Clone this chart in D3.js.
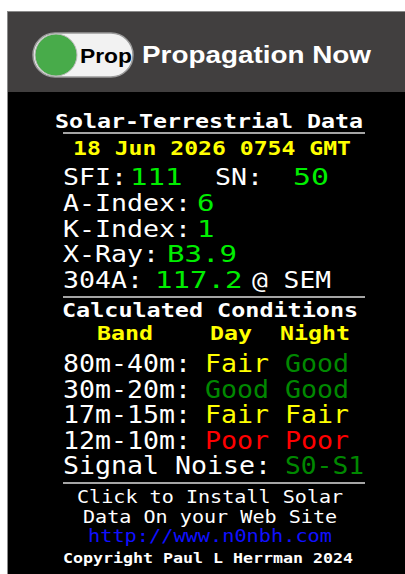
<!DOCTYPE html>
<html>
<head>
<meta charset="utf-8">
<script src="https://cdn.jsdelivr.net/npm/d3@7"></script>
<style>
  body { margin: 0; background: #fff; }
  svg { display: block; }
</style>
</head>
<body>
<div id="chart"></div>
<script>
// widget data
var headerTitle = "Solar-Terrestrial Data";
var dateLine = "18 Jun 2026 0754 GMT";
var indexLabels = ["SFI:", "A-Index:", "K-Index:", "X-Ray:", "304A:"];
var indexValues = ["111", "6", "1", "B3.9", "117.2"];
var indexValueX = [130, 197, 197, 167, 155];
var bands = ["80m-40m:", "30m-20m:", "17m-15m:", "12m-10m:"];
var dayConditions = ["Fair", "Good", "Fair", "Poor"];
var nightConditions = ["Good", "Good", "Fair", "Poor"];
var columnHeads = ["Band", "Day", "Night"];
var columnHeadX = [97, 210, 280];
var noiseLabel = "Signal Noise:";
var noiseValue = "S0-S1";
var footerLines = ["Click to Install Solar", "Data On your Web Site"];

var width = 405, height = 574;
var mono = "'DejaVu Sans Mono', 'Liberation Mono', monospace";

var svg = d3.select("#chart")
    .append("svg")
    .attr("width", width)
    .attr("height", height);

// panel background
svg.append("rect").attr("x", 7).attr("y", 92).attr("width", width - 7).attr("height", height - 92).attr("fill", "#000");
svg.append("rect").attr("x", 7).attr("y", 11).attr("width", width - 7).attr("height", 81).attr("fill", "#413f3f");
svg.append("line").attr("x1", 7).attr("x2", width).attr("y1", 11.5).attr("y2", 11.5).attr("stroke", "#8a8a8a");
svg.append("line").attr("x1", 7.5).attr("x2", 7.5).attr("y1", 11).attr("y2", height).attr("stroke", "#8a8a8a");

// toggle + title
svg.append("rect").attr("x", 33).attr("y", 33).attr("width", 100).attr("height", 44).attr("rx", 22)
    .attr("fill", "#f2f2f2").attr("stroke", "#9a9a9a").attr("stroke-width", 1.5);
svg.append("circle").attr("cx", 56).attr("cy", 55).attr("r", 21)
    .attr("fill", "#48ab4a").attr("stroke", "#bbb").attr("stroke-width", 1);
svg.append("text").attr("x", 80).attr("y", 63)
    .attr("font-family", "'Liberation Sans', Arial, sans-serif").attr("font-weight", "bold")
    .attr("font-size", 21).attr("fill", "#000")
    .attr("textLength", 52).attr("lengthAdjust", "spacingAndGlyphs").text("Prop");
svg.append("text").attr("x", 142).attr("y", 63)
    .attr("font-family", "'Liberation Sans', Arial, sans-serif").attr("font-weight", "bold")
    .attr("font-size", 24).attr("fill", "#fff")
    .attr("textLength", 229).attr("lengthAdjust", "spacingAndGlyphs").text("Propagation Now");

// helper for fixed-width text
function monoText(x, y, str, charW, size, color, bold) {
    return svg.append("text")
        .attr("x", x).attr("y", y)
        .attr("font-family", mono)
        .attr("font-size", size)
        .attr("font-weight", bold ? "bold" : "normal")
        .attr("fill", color)
        .attr("textLength", str.length * charW)
        .attr("lengthAdjust", "spacingAndGlyphs")
        .text(str);
}

// separators
[133, 297, 483].forEach(function (y) {
    svg.append("line").attr("x1", 63).attr("x2", 365).attr("y1", y).attr("y2", y)
        .attr("stroke", "#a5a5a5").attr("stroke-width", 2);
});

monoText(55, 128, headerTitle, 14, 20, "#fff", true);
monoText(73, 155, dateLine, 13.9, 20, "#ffff00", true);

// index rows
var indexY = d3.scaleLinear().domain([0, indexLabels.length - 1]).range([185, 288]);
var green = "#00ee00";
var rowSize = 23.5;

svg.selectAll(".idxLabel").data(indexLabels).enter().append("text")
    .attr("class", "idxLabel")
    .attr("x", 63).attr("y", function (d, i) { return indexY(i); })
    .attr("font-family", mono).attr("font-size", rowSize).attr("fill", "#fff")
    .attr("textLength", function (d) { return d.length * 16; })
    .attr("lengthAdjust", "spacingAndGlyphs")
    .text(function (d) { return d; });

svg.selectAll(".idxValue").data(indexValues).enter().append("text")
    .attr("class", "idxValue")
    .attr("x", function (d, i) { return indexValueX[i]; })
    .attr("y", function (d, i) { return indexY(i); })
    .attr("font-family", mono).attr("font-size", rowSize).attr("fill", green)
    .attr("textLength", function (d) { return d.length * 17.5; })
    .attr("lengthAdjust", "spacingAndGlyphs")
    .text(function (d) { return d; });

monoText(215, indexY(0), "SN:", 16, rowSize, "#fff", false);
monoText(293, indexY(0), "50", 18, rowSize, green, false);
monoText(252, indexY(4), "@ SEM", 15.8, rowSize, "#fff", false);

// conditions
monoText(62, 317, "Calculated Conditions", 14.1, 20, "#fff", true);
svg.selectAll(".colHead").data(columnHeads).enter().append("text")
    .attr("class", "colHead")
    .attr("x", function (d, i) { return columnHeadX[i]; })
    .attr("y", 340)
    .attr("font-family", mono).attr("font-size", 20).attr("font-weight", "bold").attr("fill", "#ffff00")
    .attr("textLength", function (d) { return d.length * 14; })
    .attr("lengthAdjust", "spacingAndGlyphs")
    .text(function (d) { return d; });

var condColor = d3.scaleOrdinal()
    .domain(["Good", "Fair", "Poor"])
    .range(["#008800", "#ffff00", "#ff0000"]);
var bandY = d3.scaleLinear().domain([0, bands.length]).range([372, 474]);
var bandSize = 24;

svg.selectAll(".band").data(bands).enter().append("text")
    .attr("class", "band")
    .attr("x", 63).attr("y", function (d, i) { return bandY(i); })
    .attr("font-family", mono).attr("font-size", bandSize).attr("fill", "#fff")
    .attr("textLength", function (d) { return d.length * 16; })
    .attr("lengthAdjust", "spacingAndGlyphs")
    .text(function (d) { return d; });

[[dayConditions, 205], [nightConditions, 285]].forEach(function (col) {
    svg.selectAll(null).data(col[0]).enter().append("text")
        .attr("x", col[1]).attr("y", function (d, i) { return bandY(i); })
        .attr("font-family", mono).attr("font-size", bandSize)
        .attr("fill", function (d) { return condColor(d); })
        .attr("textLength", function (d) { return d.length * 16; })
        .attr("lengthAdjust", "spacingAndGlyphs")
        .text(function (d) { return d; });
});

monoText(63, bandY(bands.length), noiseLabel, 16, bandSize, "#fff", false);
monoText(285, bandY(bands.length), noiseValue, 15.8, bandSize, condColor("Good"), false);

// footer
var footY = d3.scaleLinear().domain([0, 1]).range([503, 523]);
monoText(77, footY(0), footerLines[0], 12.1, 18, "#fff", false);
monoText(83, footY(1), footerLines[1], 12.1, 18, "#fff", false);
monoText(88, 542, "http://www.n0nbh.com", 12.2, 18, "#1010ff", false);
monoText(63, 563, "Copyright Paul L Herrman 2024", 10, 14, "#fff", true);
</script>
</body>
</html>
